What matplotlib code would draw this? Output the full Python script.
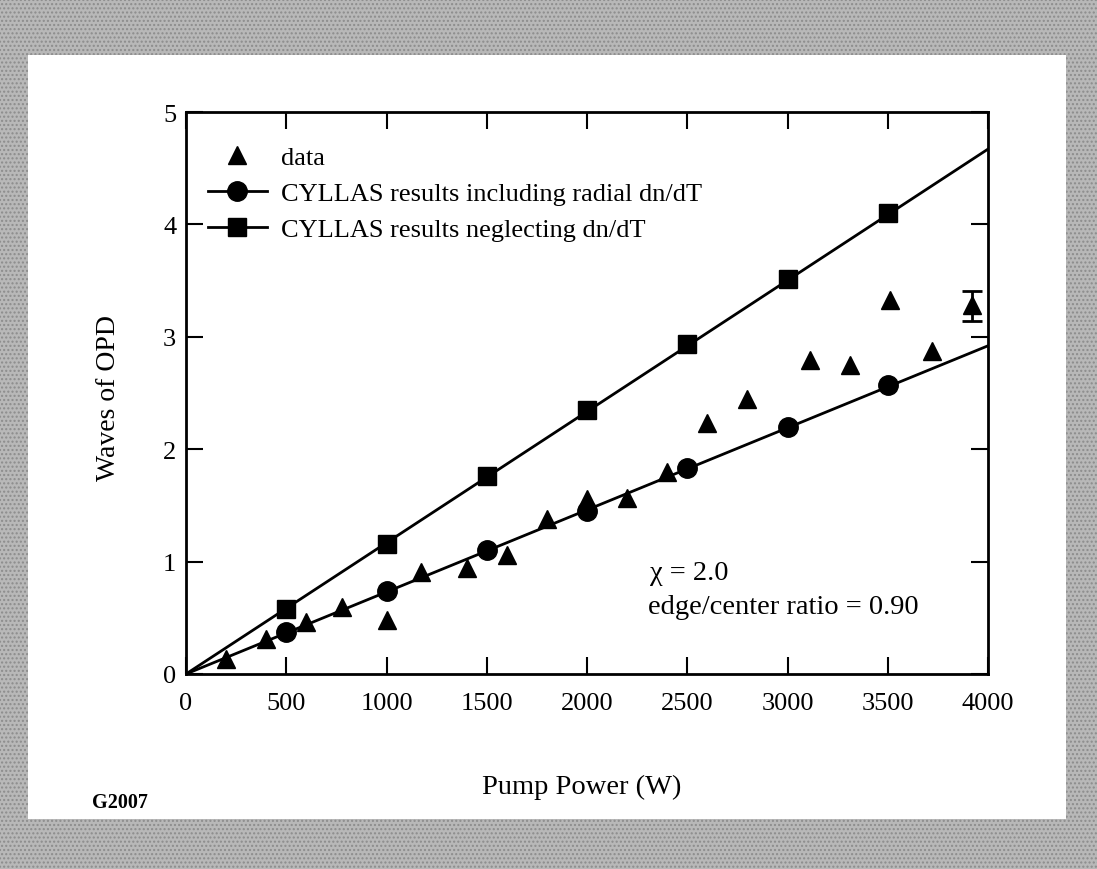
import matplotlib
matplotlib.use("Agg")
import matplotlib.pyplot as plt
from matplotlib.patches import Rectangle

plt.rcParams['font.family'] = ['Liberation Serif', 'DejaVu Serif']

# ---- data ----
data_x = [200, 400, 600, 780, 1000, 1170, 1400, 1600, 1800, 2000, 2200, 2400,
          2600, 2800, 3110, 3310, 3510, 3720, 3920]
data_y = [0.13, 0.31, 0.46, 0.60, 0.48, 0.91, 0.94, 1.06, 1.38, 1.56, 1.57, 1.80,
          2.23, 2.45, 2.79, 2.75, 3.33, 2.87, 3.28]
err_x = [3920]
err_y = [3.28]
err_lo = [0.14]
err_hi = [0.13]

model_x = [500, 1000, 1500, 2000, 2500, 3000, 3500]
radial_y = [0.37, 0.74, 1.10, 1.45, 1.83, 2.20, 2.57]
neglect_y = [0.58, 1.16, 1.76, 2.35, 2.94, 3.51, 4.10]

fit_x = [0, 4000]
fit_radial = [0, 2.92]
fit_neglect = [0, 4.67]

x_ticks = [0, 500, 1000, 1500, 2000, 2500, 3000, 3500, 4000]
y_ticks = [0, 1, 2, 3, 4, 5]

W, H = 1097, 870
fig = plt.figure(figsize=(W / 100, H / 100), dpi=100)
fig.patch.set_facecolor('#b8b8b8')
fig.patches.append(Rectangle((0, 0), 1, 1, transform=fig.transFigure,
                             facecolor='none', edgecolor='#8c8c8c', hatch='....',
                             linewidth=0, zorder=-6))
fig.patches.append(Rectangle((28 / W, 1 - 820 / H), (1066 - 28) / W, (820 - 56) / H,
                             transform=fig.transFigure, facecolor='white',
                             edgecolor='none', zorder=-5))

L, R, T, B = 186, 988, 113, 675
ax = fig.add_axes([L / W, 1 - B / H, (R - L) / W, (B - T) / H])
ax.set_zorder(2)
ax.set_facecolor('white')

lw = 2.0
ax.plot(fit_x, fit_radial, color='black', lw=lw, zorder=2)
ax.plot(fit_x, fit_neglect, color='black', lw=lw, zorder=2)

ax.plot(data_x, data_y, linestyle='none', marker='^', ms=13, color='black',
        label='data', zorder=3)
ax.errorbar(err_x, err_y, yerr=[err_lo, err_hi], fmt='none', ecolor='black',
            elinewidth=2, capsize=7, capthick=2, zorder=3)
ax.plot(model_x, radial_y, linestyle='none', marker='o', ms=14, color='black', zorder=3)
ax.plot(model_x, neglect_y, linestyle='none', marker='s', ms=13, color='black', zorder=3)

# legend proxies (line + marker)
h_tri, = ax.plot([], [], linestyle='none', marker='^', ms=13, color='black')
h_circ, = ax.plot([], [], linestyle='-', lw=lw, marker='o', ms=14, color='black')
h_sq, = ax.plot([], [], linestyle='-', lw=lw, marker='s', ms=13, color='black')
ax.legend([h_tri, h_circ, h_sq],
          ['data', 'CYLLAS results including radial dn/dT',
           'CYLLAS results neglecting dn/dT'],
          loc='upper left', bbox_to_anchor=(0.028, 0.94), frameon=False,
          fontsize=19, handlelength=2.2, handletextpad=0.55, labelspacing=0.48,
          borderpad=0, borderaxespad=0, numpoints=1)

ax.set_xlim(0, 4000)
ax.set_ylim(0, 5)
ax.set_xticks(x_ticks)
ax.set_yticks(y_ticks)
ax.tick_params(direction='in', length=12, width=1.5, top=True, right=True,
               labelsize=19)
ax.tick_params(axis='x', pad=13)
ax.tick_params(axis='y', pad=7)
for s in ax.spines.values():
    s.set_linewidth(2)

ax.set_xlabel('Pump Power (W)', fontsize=20.5)
ax.xaxis.set_label_coords(0.493, -0.178)
ax.set_ylabel('Waves of OPD', fontsize=20)
ax.yaxis.set_label_coords(-0.081, 0.493)

ax.text(2315, 0.90, 'χ = 2.0', fontsize=20.5, ha='left', va='center')
ax.text(2305, 0.60, 'edge/center ratio = 0.90', fontsize=20.5, ha='left', va='center')

fig.text(92 / W, 1 - 803 / H, 'G2007', fontsize=14.5, fontweight='bold',
         ha='left', va='center')

fig.savefig('out.png', dpi=100, facecolor=fig.get_facecolor())
